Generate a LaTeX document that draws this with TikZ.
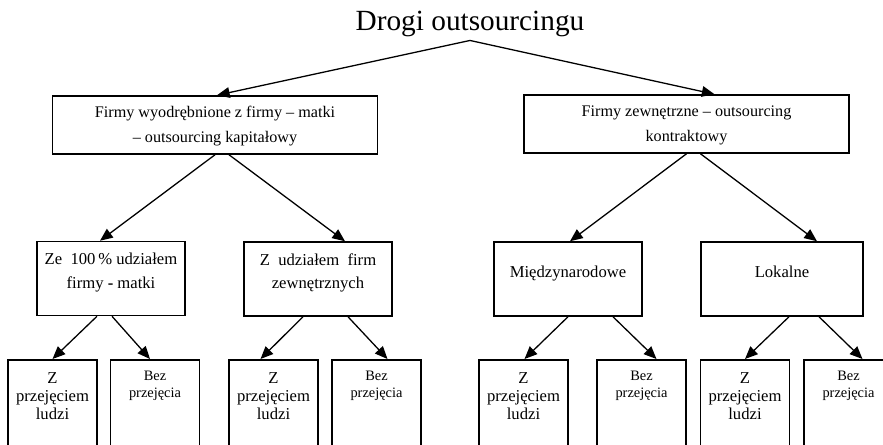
\documentclass[tikz,border=0pt]{standalone}
\usepackage{fontspec}
\setmainfont{Liberation Serif}
\usetikzlibrary{arrows.meta,positioning,calc}

\begin{document}
\begin{tikzpicture}[
  x=0.03cm, y=-0.03cm,
  box/.style={rectangle, draw, line width=1.3pt, align=center, inner sep=0pt},
  mainbox/.style={box, minimum width=9.75cm, minimum height=1.74cm, text height=1.14cm, text depth=0.12cm, font=\fontsize{13.8}{20.5}\selectfont},
  midbox/.style={box, minimum width=4.44cm, minimum height=2.22cm, text height=1.0cm, text depth=0.42cm, font=\fontsize{14.2}{20}\selectfont},
  onebox/.style={midbox, text height=0.35cm, text depth=0.47cm},
  leafbox/.style={box, anchor=north, minimum width=2.67cm, text height=1.8cm, text depth=2cm, font=\fontsize{14.2}{15.4}\selectfont},
  leafbez/.style={leafbox, text height=1.13cm, text depth=2.6cm, font=\fontsize{12.3}{14.3}\selectfont},
  arr/.style={-{Triangle[length=3.8mm,width=3.2mm]}, line width=1.1pt}
]
  \useasboundingbox (0,0) rectangle (883,445);

  \node[anchor=base, font=\fontsize{25}{28}\selectfont] (title) at (470,30) {Drogi outsourcingu};

  \node[mainbox] (firmyA) at (215,125) {Firmy wyodrębnione z firmy – matki\\– outsourcing kapitałowy};
  \node[mainbox] (firmyB) at (686.5,124) {Firmy zewnętrzne – outsourcing\\kontraktowy};

  \node[midbox] (udz100) at (111,278.5) {Ze~ 100\,\% udziałem\\firmy \textbf{-} matki};
  \node[midbox] (udzZew) at (318,279) {Z~ udziałem~ firm\\zewnętrznych};
  \node[onebox] (miedzy) at (568,279) {Międzynarodowe};
  \node[onebox, minimum width=4.86cm] (lokalne) at (782,279) {Lokalne};

  % bottom row
  \node[leafbox] (przejA) at (52.5,359) {Z\\przejęciem\\ludzi};
  \node[leafbez] (bezA) at (155,359) {Bez\\przejęcia};
  \node[leafbox] (przejB) at (273.5,359) {Z\\przejęciem\\ludzi};
  \node[leafbez] (bezB) at (376.5,359) {Bez\\przejęcia};
  \node[leafbox] (przejC) at (523.5,359) {Z\\przejęciem\\ludzi};
  \node[leafbez] (bezC) at (641.5,359) {Bez\\przejęcia};
  \node[leafbox] (przejD) at (745,359) {Z\\przejęciem\\ludzi};
  \node[leafbez] (bezD) at (848.5,359) {Bez\\przejęcia};

  \draw[arr] (title.south) -- ($(firmyA.north)+(2,0)$);
  \draw[arr] (title.south) -- ($(firmyB.north)+(28,0)$);

  \draw[arr] (firmyA.south) -- ($(udz100.north)+(-11,0)$);
  \draw[arr] ($(firmyA.south)+(14,0)$) -- ($(udzZew.north)+(27,0)$);
  \draw[arr] (firmyB.south) -- ($(miedzy.north)+(2,0)$);
  \draw[arr] ($(firmyB.south)+(14,0)$) -- ($(lokalne.north)+(35,0)$);

  \draw[arr] ($(udz100.south)+(-14,0)$) -- (przejA.north);
  \draw[arr] ($(udz100.south)+(1,0)$) -- ($(bezA.north)+(-5,0)$);
  \draw[arr] ($(udzZew.south)+(-15,0)$) -- ($(przejB.north)+(-13,0)$);
  \draw[arr] ($(udzZew.south)+(30,0)$) -- ($(bezB.north)+(11,0)$);
  \draw[arr] (miedzy.south) -- ($(przejC.north)+(1,0)$);
  \draw[arr] ($(miedzy.south)+(45,0)$) -- ($(bezC.north)+(15,0)$);
  \draw[arr] ($(lokalne.south)+(7,0)$) -- (przejD.north);
  \draw[arr] ($(lokalne.south)+(37,0)$) -- ($(bezD.north)+(14,0)$);
\end{tikzpicture}
\end{document}
